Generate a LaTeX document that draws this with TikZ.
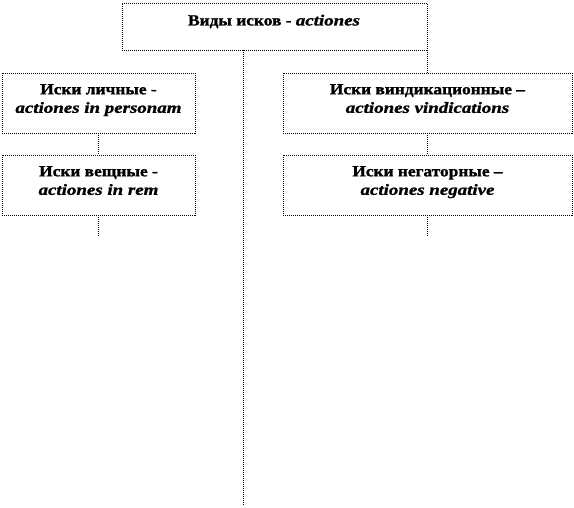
\documentclass[tikz,border=0pt]{standalone}
\usepackage{fontspec}
\setmainfont{Liberation Serif}[BoldFeatures={FakeStretch=1.12,FakeBold=1.3},BoldItalicFeatures={FakeStretch=1.22,FakeBold=1.3}]
\begin{document}
\begin{tikzpicture}[x=1pt,y=-1pt,
  dotline/.style={line width=1pt, dash pattern=on 1pt off 1pt, black},
  box/.style={draw, dotline, rectangle, inner sep=0pt, outer sep=0pt},
  lbl/.style={font=\fontsize{15.5}{18.5}\selectfont\bfseries, align=center, inner sep=0pt, anchor=north}
]
\useasboundingbox (0,0) rectangle (574,507);
% boxes
\node[box, minimum width=305pt, minimum height=47pt] (top) at (274.5,26.5) {};
\node[box, minimum width=193pt, minimum height=60pt] (l1) at (98.5,103) {};
\node[box, minimum width=193pt, minimum height=60pt] (l2) at (98.5,185) {};
\node[box, minimum width=289pt, minimum height=60pt] (r1) at (427.5,103) {};
\node[box, minimum width=289pt, minimum height=60pt] (r2) at (427.5,185) {};
% texts
\node[lbl] (ttop) at (274,14.5) {Виды исков - \textit{actiones}};
\node[lbl] (tl1) at (98.5,84) {Иски личные -\\\textit{actiones in personam}};
\node[lbl] (tl2) at (98.5,166) {Иски вещные -\\\textit{actiones in rem}};
\node[lbl] (tr1) at (427.5,84) {Иски виндикационные --\\\textit{actiones vindications}};
\node[lbl] (tr2) at (427.5,166) {Иски негаторные --\\\textit{actiones negative}};
% connectors
\coordinate (mainend) at (243,505);
\coordinate (lend) at (98.5,237);
\coordinate (rend) at (427,237);
\draw[dotline] (top.south -| mainend) -- (mainend);
\draw[dotline] (top.south east) -- (top.south east |- r1.north);
\draw[dotline] (l1.south) -- (l2.north);
\draw[dotline] (l2.south) -- (lend);
\draw[dotline] (r1.south -| rend) -- (r2.north -| rend);
\draw[dotline] (r2.south -| rend) -- (rend);
\end{tikzpicture}
\end{document}
